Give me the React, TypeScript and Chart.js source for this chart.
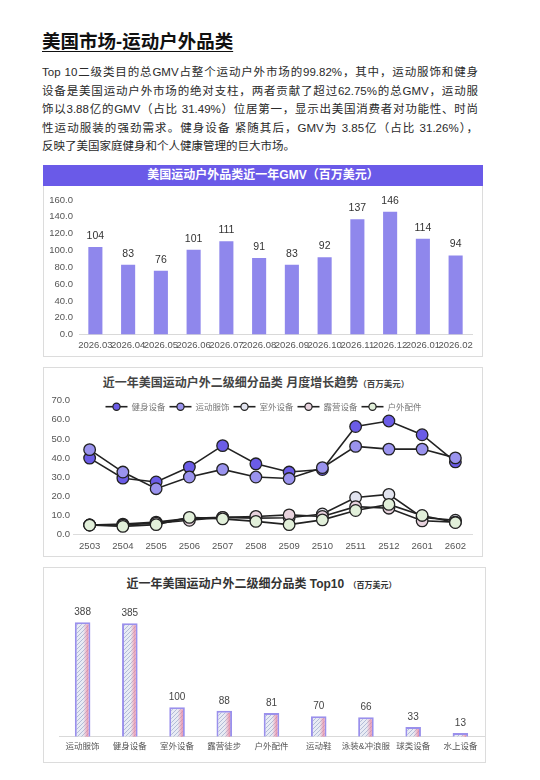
import React, { useEffect, useRef } from "react";
import { Chart, registerables } from "chart.js";
Chart.register(...registerables);

const FONT = '"Liberation Sans", "Noto Sans CJK SC", Arial, sans-serif';

// ---- Chart 1: monthly GMV ----
const gmvMonths = ["2026.03", "2026.04", "2026.05", "2026.06", "2026.07", "2026.08", "2026.09", "2026.10", "2026.11", "2026.12", "2026.01", "2026.02"];
const gmvValues = [104, 83, 76, 101, 111, 91, 83, 92, 137, 146, 114, 94];
const gmvTickMax = 160;
const gmvTickStep = 20;

// ---- Chart 2: monthly trend per sub-category ----
const trendMonths = ["2503", "2504", "2505", "2506", "2507", "2508", "2509", "2510", "2511", "2512", "2601", "2602"];
const seriesNames = ["健身设备", "运动服饰", "室外设备", "露营设备", "户外配件"];
const fitnessValues = [40, 29.5, 27.5, 35.3, 46.5, 37, 32.7, 34, 56.5, 59.4, 52.2, 38];
const apparelValues = [44.4, 32.7, 24, 30.1, 34.1, 30.1, 29.3, 35, 46.1, 44.7, 44.7, 40.1];
const outdoorGearValues = [5, 5.5, 6.5, 8.5, 9, 8.6, 8.8, 10.8, 19.4, 21, 9, 7.5];
const campingValues = [5, 5, 6, 7.5, 9, 9.5, 10.3, 9.5, 14.6, 13.8, 7.2, 6.5];
const accessoryValues = [5, 4.3, 5.2, 9, 8.2, 6.9, 5.2, 7.7, 12.6, 15.8, 10, 6.3];
const seriesColors = ["#6B5CE7", "#9A93EE", "#E2E4EF", "#E8D3DE", "#E2F0DA"];
const trendTickMax = 70;
const trendTickStep = 10;

// ---- Chart 3: Top10 sub-categories ----
const topCategories = ["运动服饰", "健身设备", "室外设备", "露营徒步", "户外配件", "运动鞋", "泳装&冲浪服", "球类设备", "水上设备"];
const topValues = [388, 385, 100, 88, 81, 70, 66, 33, 13];
const topAxisMax = 450;

function valueLabelPlugin(size: number, color: string, offset: number) {
  return {
    id: "valueLabels",
    afterDatasetsDraw(chart: any) {
      const ctx = chart.ctx;
      const meta = chart.getDatasetMeta(0);
      const data = chart.data.datasets[0].data;
      ctx.save();
      ctx.font = `${size}px ${FONT}`;
      ctx.fillStyle = color;
      ctx.textAlign = "center";
      ctx.textBaseline = "middle";
      meta.data.forEach((el: any, i: number) => {
        ctx.fillText(String(data[i]), el.x, el.y - offset);
      });
      ctx.restore();
    },
  };
}

const pinkShadePlugin = {
  id: "pinkShade",
  afterDatasetsDraw(chart: any) {
    const ctx = chart.ctx;
    const meta = chart.getDatasetMeta(0);
    ctx.save();
    meta.data.forEach((el: any) => {
      const bw = 2;
      const left = el.x - el.width / 2 + bw;
      const right = el.x + el.width / 2 - bw;
      const top = el.y + bw;
      const bottom = el.base;
      if (bottom - top <= 0) return;
      const g = ctx.createLinearGradient(left, 0, right, 0);
      g.addColorStop(0, "rgba(240,150,170,0)");
      g.addColorStop(0.55, "rgba(240,150,170,0)");
      g.addColorStop(1, "rgba(232,120,150,0.8)");
      ctx.fillStyle = g;
      ctx.fillRect(left, top, right - left, bottom - top);
    });
    ctx.restore();
  },
};

const lineLegendPlugin = {
  id: "lineLegend",
  afterDraw(chart: any) {
    const ctx = chart.ctx;
    const area = chart.chartArea;
    const fontSize = 8.5;
    ctx.save();
    ctx.font = `${fontSize}px ${FONT}`;
    const iconW = 22;
    const gap = 4;
    const itemGap = 4;
    const items = chart.data.datasets.map((ds: any) => ({
      label: ds.label,
      color: ds.pointBackgroundColor,
      w: iconW + gap + ctx.measureText(ds.label).width,
    }));
    const total = items.reduce((s: number, it: any) => s + it.w, 0) + itemGap * (items.length - 1);
    let x = (area.left + area.right) / 2 - 9 - total / 2;
    const y = area.top + 6;
    items.forEach((it: any) => {
      ctx.strokeStyle = "#222";
      ctx.lineWidth = 1.6;
      ctx.beginPath();
      ctx.moveTo(x, y);
      ctx.lineTo(x + iconW, y);
      ctx.stroke();
      ctx.beginPath();
      ctx.arc(x + iconW / 2, y, 3.6, 0, Math.PI * 2);
      ctx.fillStyle = it.color;
      ctx.fill();
      ctx.lineWidth = 1.2;
      ctx.stroke();
      ctx.fillStyle = "#777";
      ctx.textAlign = "left";
      ctx.textBaseline = "middle";
      ctx.fillText(it.label, x + iconW + gap, y + 0.5);
      x += it.w + itemGap;
    });
    ctx.restore();
  },
};

function makeHatch(): CanvasPattern | string {
  const c = document.createElement("canvas");
  c.width = 4;
  c.height = 4;
  const x = c.getContext("2d");
  if (!x) return "#d9deec";
  x.fillStyle = "#e8ebf4";
  x.fillRect(0, 0, 4, 4);
  x.strokeStyle = "#b2bcd6";
  x.lineWidth = 1;
  x.beginPath();
  x.moveTo(0, 4);
  x.lineTo(4, 0);
  x.moveTo(-1, 1);
  x.lineTo(1, -1);
  x.moveTo(3, 5);
  x.lineTo(5, 3);
  x.stroke();
  const p = x.createPattern(c, "repeat");
  return p || "#d9deec";
}

function GmvChart() {
  const ref = useRef<HTMLCanvasElement>(null);
  useEffect(() => {
    if (!ref.current) return;
    const chart = new Chart(ref.current, {
      type: "bar",
      data: {
        labels: gmvMonths,
        datasets: [{ data: gmvValues, backgroundColor: "#8F87EC", barPercentage: 0.43, categoryPercentage: 1 }],
      },
      options: {
        animation: false,
        responsive: true,
        maintainAspectRatio: false,
        layout: { padding: { top: 14, right: 11, bottom: 0, left: 0 } },
        plugins: { legend: { display: false }, tooltip: { enabled: false } },
        scales: {
          x: {
            grid: { display: false, drawTicks: false },
            border: { color: "#d9d9d9" },
            ticks: { autoSkip: false, maxRotation: 0, minRotation: 0, padding: 5, color: "#555", font: { size: 9.5, family: FONT } },
          },
          y: {
            min: 0,
            max: gmvTickMax,
            grid: { display: false, drawTicks: false },
            border: { display: false },
            ticks: { stepSize: gmvTickStep, padding: 6, color: "#555", font: { size: 9.5, family: FONT }, callback: (v: any) => Number(v).toFixed(1) },
            afterFit: (s: any) => { s.width = 35; },
          },
        },
      } as any,
      plugins: [valueLabelPlugin(10.5, "#333", 11)],
    });
    return () => chart.destroy();
  }, []);
  return <canvas ref={ref} />;
}

function TrendChart() {
  const ref = useRef<HTMLCanvasElement>(null);
  useEffect(() => {
    if (!ref.current) return;
    const seriesValues = [fitnessValues, apparelValues, outdoorGearValues, campingValues, accessoryValues];
    const chart = new Chart(ref.current, {
      type: "line",
      data: {
        labels: trendMonths,
        datasets: seriesNames.map((name, i) => ({
          label: name,
          data: seriesValues[i],
          borderColor: "#222",
          borderWidth: 1.6,
          pointBackgroundColor: seriesColors[i],
          pointBorderColor: "#222",
          pointBorderWidth: 1.3,
          pointRadius: 5.8,
          pointStyle: "circle",
          tension: 0,
          clip: false,
          order: 5 - i,
        })),
      },
      options: {
        animation: false,
        responsive: true,
        maintainAspectRatio: false,
        layout: { autoPadding: false, padding: { top: 7, right: 10, bottom: 0, left: 0 } },
        plugins: {
          tooltip: { enabled: false },
          legend: { display: false },
        },
        scales: {
          x: {
            offset: true,
            grid: { display: false, drawTicks: false },
            border: { color: "#dcdcdc" },
            ticks: { autoSkip: false, maxRotation: 0, padding: 6, color: "#555", font: { size: 9.5, family: FONT } },
          },
          y: {
            min: 0,
            max: trendTickMax,
            grid: { display: false, drawTicks: false },
            border: { display: false },
            ticks: { stepSize: trendTickStep, padding: 3, color: "#555", font: { size: 9.5, family: FONT }, callback: (v: any) => Number(v).toFixed(1) },
            afterFit: (s: any) => { s.width = 29; },
          },
        },
      } as any,
      plugins: [lineLegendPlugin],
    });
    return () => chart.destroy();
  }, []);
  return <canvas ref={ref} />;
}

function TopChart() {
  const ref = useRef<HTMLCanvasElement>(null);
  useEffect(() => {
    if (!ref.current) return;
    const chart = new Chart(ref.current, {
      type: "bar",
      data: {
        labels: topCategories,
        datasets: [{
          data: topValues,
          backgroundColor: makeHatch() as any,
          borderColor: "#9A90EC",
          borderWidth: 2,
          barPercentage: 0.33,
          categoryPercentage: 1,
        }],
      },
      options: {
        animation: false,
        responsive: true,
        maintainAspectRatio: false,
        layout: { padding: { top: 6, right: 1, bottom: 5, left: 15 } },
        plugins: { legend: { display: false }, tooltip: { enabled: false } },
        scales: {
          x: {
            grid: { display: false, drawTicks: false },
            border: { color: "#d9d9d9" },
            ticks: { autoSkip: false, maxRotation: 0, padding: 5, color: "#555", font: { size: 8.5, family: FONT } },
          },
          y: { display: false, min: 0, max: topAxisMax },
        },
      } as any,
      plugins: [pinkShadePlugin, valueLabelPlugin(10, "#444", 10)],
    });
    return () => chart.destroy();
  }, []);
  return <canvas ref={ref} />;
}

const paraLines = [
  "Top 10二级类目的总GMV占整个运动户外市场的99.82%，其中，运动服饰和健身",
  "设备是美国运动户外市场的绝对支柱，两者贡献了超过62.75%的总GMV，运动服",
  "饰以3.88亿的GMV（占比 31.49%）位居第一，显示出美国消费者对功能性、时尚",
  "性运动服装的强劲需求。健身设备 紧随其后，GMV为 3.85亿（占比 31.26%），",
];
const paraLast = "反映了美国家庭健身和个人健康管理的巨大市场。";

export default function App() {
  const abs = (l: number, t: number, w: number, h: number): React.CSSProperties => ({ position: "absolute", left: l, top: t, width: w, height: h });
  return (
    <div style={{ position: "absolute", left: 0, top: 0, width: 540, height: 780, background: "#fff", fontFamily: FONT, color: "#222", overflow: "hidden" }}>
      <div style={{ position: "absolute", left: 42, top: 30, fontSize: 18.5, fontWeight: 700, color: "#111", textDecoration: "underline", textUnderlineOffset: 3, lineHeight: "24px", whiteSpace: "nowrap" }}>
        美国市场-运动户外品类
      </div>
      <div style={{ position: "absolute", left: 42, top: 63, width: 436, fontSize: 11.5, lineHeight: "18.6px", color: "#2a2a2a" }}>
        {paraLines.map((l, i) => (
          <div key={i} style={{ textAlign: "justify", textAlignLast: "justify", whiteSpace: "nowrap" as any }}>{l}</div>
        ))}
        <div>{paraLast}</div>
      </div>

      {/* Chart 1 box */}
      <div style={{ ...abs(43, 165, 440, 192), border: "1px solid #dcdcdc", boxSizing: "border-box" }} />
      <div style={{ ...abs(43, 165, 440, 21), background: "#6A5AE8", color: "#fff", fontWeight: 700, fontSize: 12, lineHeight: "21px", textAlign: "center", whiteSpace: "nowrap" }}>
        美国运动户外品类近一年GMV（百万美元）
      </div>
      <div style={abs(44, 186, 439, 170)}><GmvChart /></div>

      {/* Chart 2 box */}
      <div style={{ ...abs(43, 367, 440, 190), border: "1px solid #dcdcdc", boxSizing: "border-box" }} />
      <div style={{ ...abs(43, 373, 426, 18), textAlign: "center", lineHeight: "18px", whiteSpace: "nowrap", color: "#444" }}>
        <span style={{ fontWeight: 700, fontSize: 12 }}>近一年美国运动户外二级细分品类 月度增长趋势</span>
        <span style={{ fontWeight: 700, fontSize: 8.5 }}>（百万美元）</span>
      </div>
      <div style={abs(44, 392, 438, 166)}><TrendChart /></div>

      {/* Chart 3 box */}
      <div style={{ ...abs(43, 567, 443, 196), border: "1px solid #dcdcdc", boxSizing: "border-box" }} />
      <div style={{ ...abs(43, 574, 437, 18), textAlign: "center", lineHeight: "18px", whiteSpace: "nowrap", color: "#333" }}>
        <span style={{ fontWeight: 700, fontSize: 12 }}>近一年美国运动户外二级细分品类 Top10</span>
        <span style={{ fontWeight: 700, fontSize: 8 }}>&nbsp;&nbsp;（百万美元）</span>
      </div>
      <div style={abs(44, 598, 441, 164)}><TopChart /></div>
    </div>
  );
}
